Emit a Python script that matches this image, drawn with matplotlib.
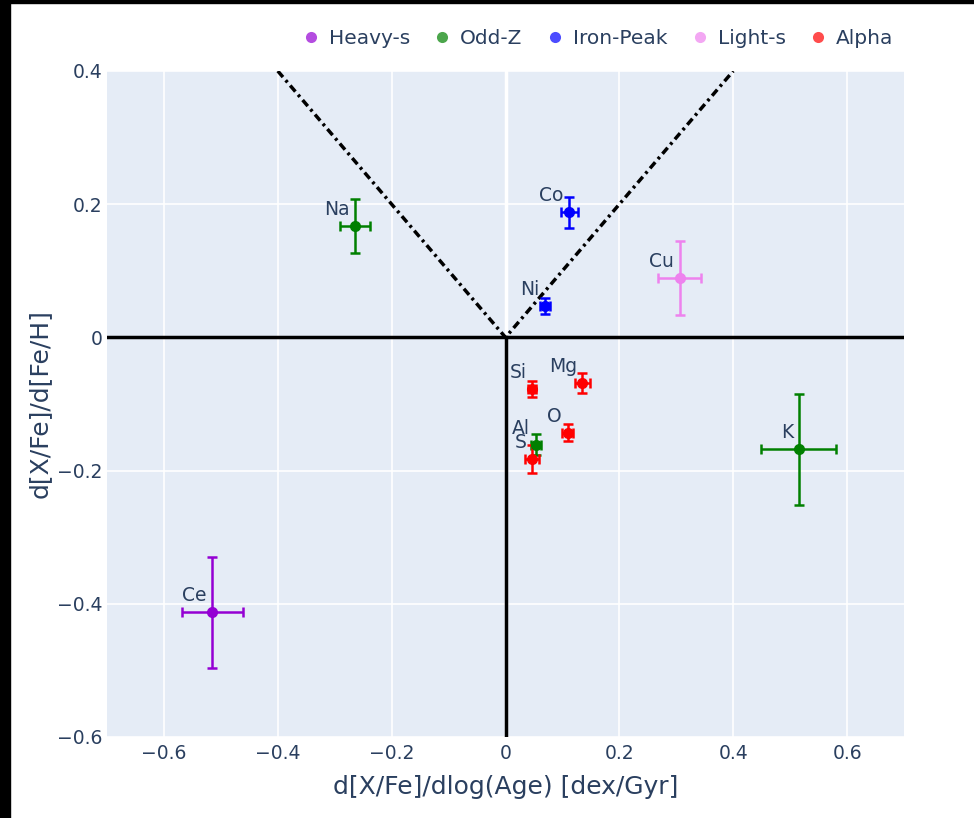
import matplotlib
matplotlib.use("Agg")
import matplotlib.pyplot as plt
from matplotlib.lines import Line2D
from matplotlib.patches import Rectangle

plt.rcParams['font.family'] = ['DejaVu Sans']
txt = '#2a3f5f'

# element data: group, x, y, x error, y error
groups = ['Heavy-s', 'Odd-Z', 'Iron-Peak', 'Light-s', 'Alpha']
colors = ['darkviolet', 'green', 'blue', 'violet', 'red']

elements = ['Ce', 'Na', 'K', 'Al', 'Co', 'Ni', 'Cu', 'Si', 'Mg', 'O', 'S']
elem_group = ['Heavy-s', 'Odd-Z', 'Odd-Z', 'Odd-Z', 'Iron-Peak', 'Iron-Peak',
              'Light-s', 'Alpha', 'Alpha', 'Alpha', 'Alpha']
x_val = [-0.515, -0.264, 0.515, 0.053, 0.112, 0.070, 0.306, 0.047, 0.135, 0.109, 0.047]
y_val = [-0.413, 0.167, -0.168, -0.161, 0.188, 0.047, 0.089, -0.078, -0.069, -0.143, -0.183]
x_err = [0.054, 0.026, 0.066, 0.009, 0.015, 0.009, 0.038, 0.007, 0.013, 0.010, 0.012]
y_err = [0.083, 0.041, 0.083, 0.016, 0.023, 0.012, 0.055, 0.012, 0.015, 0.013, 0.021]

# V-shaped guide (y = |x|)
v_x = [-0.4, 0, 0.4]
v_y = [0.4, 0, 0.4]

fig = plt.figure(figsize=(9.74, 8.18), dpi=100)
ax = fig.add_axes([107 / 974, 1 - 737 / 818, 797 / 974, 666 / 818])
ax.set_facecolor('#E5ECF6')
for s in ax.spines.values():
    s.set_visible(False)

ax.set_xlim(-0.7, 0.7)
ax.set_ylim(-0.6, 0.4)
ax.set_xticks([-0.6, -0.4, -0.2, 0, 0.2, 0.4, 0.6])
ax.set_yticks([-0.6, -0.4, -0.2, 0, 0.2, 0.4])
ax.set_xticklabels(['−0.6', '−0.4', '−0.2', '0', '0.2', '0.4', '0.6'])
ax.set_yticklabels(['−0.6', '−0.4', '−0.2', '0', '0.2', '0.4'])
ax.grid(color='white', linewidth=1.2)
ax.set_axisbelow(True)
ax.tick_params(length=0, labelsize=13.5, colors=txt)
ax.tick_params(axis='x', pad=5)
ax.tick_params(axis='y', pad=3)

ax.axvline(0, color='white', lw=2.5, zorder=1)
ax.plot([-0.7, 0.7], [0, 0], color='black', lw=2.5, zorder=2)
ax.plot([0, 0], [-0.6, 0], color='black', lw=2.5, zorder=2)
ax.plot(v_x, v_y, color='black', lw=2.5, linestyle=(0, (2.3, 1.2, 0.8, 1.2)), zorder=2)

handles = []
for g, c in zip(groups, colors):
    idx = [i for i, eg in enumerate(elem_group) if eg == g]
    ax.errorbar([x_val[i] for i in idx], [y_val[i] for i in idx],
                xerr=[x_err[i] for i in idx], yerr=[y_err[i] for i in idx],
                fmt='o', color=c, ecolor=c, markersize=7, elinewidth=1.8,
                capsize=3.5, capthick=1.8, zorder=3)
    handles.append(Line2D([], [], marker='o', linestyle='none', color=c,
                          alpha=0.7, markeredgewidth=0, markersize=8, label=g))

for e, xv, yv in zip(elements, x_val, y_val):
    ax.annotate(e, (xv, yv), xytext=(-4, 8), textcoords='offset points',
                ha='right', va='baseline', fontsize=13.5, color=txt, zorder=4)

ax.set_xlabel('d[X/Fe]/dlog(Age) [dex/Gyr]', fontsize=18, color=txt, labelpad=9)
ax.set_ylabel('d[X/Fe]/d[Fe/H]', fontsize=18, color=txt, labelpad=4)

leg = ax.legend(handles=handles, ncol=5, loc='lower right', bbox_to_anchor=(0.997, 1.022),
                frameon=False, fontsize=14.5, handletextpad=0.3, columnspacing=1.0,
                handlelength=1.2, borderaxespad=0)
for t in leg.get_texts():
    t.set_color(txt)

# black border strips of the screenshot
fig.patches.append(Rectangle((0, 0), 10 / 974, 1, transform=fig.transFigure,
                             color='black', zorder=10))
fig.patches.append(Rectangle((0, 1 - 3 / 818), 1, 3 / 818, transform=fig.transFigure,
                             color='black', zorder=10))

fig.savefig('out.png', dpi=100)
